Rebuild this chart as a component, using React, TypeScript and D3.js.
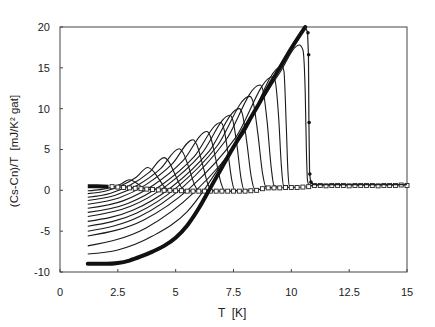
import React from "react";
import * as d3 from "d3";

// axis ticks
const tempTicks = [0, 2.5, 5, 7.5, 10, 12.5, 15];
const tempTickLabels = ["0", "2.5", "5", "7.5", "10", "12.5", "15"];
const diffTicks = [-10, -5, 0, 5, 10, 15, 20];

// H = 0 curve (thick)
const zeroField: [number, number][] = [
  [1.2, -9.0], [2.0, -9.0], [2.5, -8.9], [3.0, -8.6], [3.5, -8.1], [4.0, -7.5],
  [4.5, -6.8], [5.0, -5.8], [5.5, -4.3], [6.0, -2.2], [6.5, 0.3], [7.0, 2.8],
  [7.5, 5.3], [8.0, 7.7], [8.5, 10.1], [9.0, 12.6], [9.5, 15.0], [10.0, 17.4],
  [10.6, 20.0],
];
// its transition, drawn thin with filled dots
const zeroFieldDrop: [number, number][] = [
  [10.6, 20.0], [10.7, 19.4], [10.74, 16.6], [10.76, 8.3], [10.79, 2.0],
  [10.84, 1.0], [10.92, 0.7], [15.0, 0.7],
];
const zeroFieldDots: [number, number][] = [
  [10.72, 19.3], [10.75, 16.6], [10.77, 8.3], [10.8, 2.0], [10.85, 1.0],
];

// curves in field, highest Tc first
const fieldCurves: [number, number][][] = [
  [[1.2, -7.8], [2.5, -7.3], [4.0, -5.6], [5.5, -2.6], [7.0, 3.3], [8.5, 10.0], [9.5, 14.4], [10.35, 17.8],
    [10.5, 17.2], [10.6, 12.0], [10.65, 5.0], [10.7, 1.2], [10.78, 0.6], [11.1, 0.6]],
  [[1.2, -6.8], [3.72, -4.6], [5.82, -0.2], [7.92, 6.84], [9.6, 15.2],
    [9.68, 14.6], [9.78, 8.0], [9.85, 2.5], [9.92, 0.5], [10.2, 0.35]],
  [[1.2, -5.6], [3.6, -3.65], [5.6, 0.25], [7.6, 6.49], [9.2, 13.9],
    [9.3, 13.4], [9.45, 9.0], [9.57, 3.0], [9.66, 0.6], [9.9, 0.35]],
  [[1.2, -5.0], [3.44, -3.21], [5.3, 0.37], [7.16, 6.1], [8.65, 12.9],
    [8.77, 12.3], [8.95, 8.5], [9.13, 2.8], [9.25, 0.6], [9.5, 0.35]],
  [[1.2, -4.4], [3.3, -2.81], [5.05, 0.37], [6.8, 5.46], [8.2, 11.5],
    [8.34, 10.9], [8.55, 7.0], [8.76, 2.0], [8.9, 0.4], [9.2, 0.3]],
  [[1.2, -3.8], [3.17, -2.42], [4.8, 0.34], [6.44, 4.76], [7.75, 10.0],
    [7.88, 9.4], [8.07, 6.0], [8.27, 1.6], [8.4, 0.2], [8.7, 0.1]],
  [[1.2, -3.2], [3.05, -1.96], [4.58, 0.52], [6.12, 4.49], [7.35, 9.2],
    [7.47, 8.6], [7.65, 5.5], [7.83, 1.4], [7.95, 0.1], [8.3, 0.0]],
  [[1.2, -2.7], [2.93, -1.6], [4.36, 0.6], [5.8, 4.12], [6.95, 8.3],
    [7.07, 7.7], [7.25, 4.8], [7.43, 1.2], [7.55, 0.0], [7.9, -0.1]],
  [[1.2, -2.2], [2.75, -1.26], [4.03, 0.62], [5.32, 3.63], [6.35, 7.2],
    [6.5, 6.6], [6.72, 4.0], [6.95, 1.0], [7.1, 0.0], [7.4, -0.1]],
  [[1.2, -1.7], [2.57, -0.91], [3.7, 0.67], [4.84, 3.2], [5.75, 6.2],
    [5.91, 5.6], [6.15, 3.3], [6.39, 0.8], [6.55, 0.0], [6.9, -0.1]],
  [[1.2, -1.25], [2.39, -0.61], [3.37, 0.65], [4.36, 2.69], [5.15, 5.1],
    [5.32, 4.6], [5.58, 2.7], [5.83, 0.6], [6.0, -0.05], [6.3, -0.1]],
  [[1.2, -0.85], [2.19, -0.36], [3.02, 0.61], [3.84, 2.16], [4.5, 4.0],
    [4.68, 3.6], [4.95, 2.1], [5.22, 0.5], [5.4, 0.0], [5.7, -0.05]],
  [[1.2, -0.4], [1.98, -0.08], [2.63, 0.56], [3.28, 1.58], [3.8, 2.8],
    [3.98, 2.5], [4.25, 1.5], [4.52, 0.4], [4.7, 0.05], [5.0, 0.0]],
  [[1.2, -0.05], [1.74, 0.09], [2.19, 0.35], [2.64, 0.79], [3.0, 1.3],
    [3.16, 1.15], [3.4, 0.7], [3.64, 0.25], [3.8, 0.1], [4.1, 0.1]],
];

// normal state reference
const normalLowT: [number, number][] = [[1.2, 0.5], [1.6, 0.5], [2.1, 0.45]];
const normalSquares: [number, number][] = [
  [2.25, 0.45], [2.5, 0.4], [2.75, 0.35], [3.0, 0.3], [3.25, 0.25], [3.5, 0.2],
  [3.75, 0.15], [4.0, 0.1], [4.25, 0.05], [4.5, 0.0], [4.75, 0.0], [5.0, -0.05],
  [5.25, -0.05], [5.5, -0.1], [5.75, -0.1], [6.0, -0.1], [6.25, -0.1], [6.5, -0.1],
  [6.75, -0.1], [7.0, -0.1], [7.25, -0.1], [7.5, -0.1], [7.75, -0.1], [8.0, -0.1],
  [8.25, -0.05], [8.5, 0.0], [8.75, 0.2], [9.0, 0.3], [9.25, 0.3], [9.5, 0.3],
  [9.75, 0.35], [10.0, 0.35], [10.25, 0.35], [10.5, 0.4], [10.75, 0.45], [11.0, 0.6],
  [11.25, 0.6], [11.5, 0.55], [11.75, 0.6], [12.0, 0.6], [12.25, 0.6], [12.5, 0.55],
  [12.75, 0.6], [13.0, 0.6], [13.25, 0.6], [13.5, 0.6], [13.75, 0.55], [14.0, 0.6],
  [14.25, 0.6], [14.5, 0.6], [14.75, 0.65], [15.0, 0.6],
];

const W = 435;
const H = 327;
const margin = { left: 60, right: 28, top: 27, bottom: 55 };
const font = "'Liberation Sans', Arial, sans-serif";

export default function App() {
  const x = d3.scaleLinear().domain([0, 15]).range([margin.left, W - margin.right]);
  const y = d3.scaleLinear().domain([-10, 20]).range([H - margin.bottom, margin.top]);

  const smooth = d3
    .line<[number, number]>()
    .x((d) => x(d[0]))
    .y((d) => y(d[1]))
    .curve(d3.curveMonotoneX);
  const straight = d3
    .line<[number, number]>()
    .x((d) => x(d[0]))
    .y((d) => y(d[1]));

  const [x0, x1] = x.range();
  const [yb, yt] = y.range();

  return (
    <svg
      width={W}
      height={H}
      style={{ position: "absolute", left: 0, top: 0, background: "#fff" }}
      fontFamily={font}
    >
      {/* frame */}
      <rect x={x0} y={yt} width={x1 - x0} height={yb - yt} fill="none" stroke="#444" strokeWidth={1} />

      {/* ticks, pointing inward */}
      {tempTicks.map((t, i) => (
        <g key={"xt" + i}>
          <line x1={x(t)} x2={x(t)} y1={yb} y2={yb - 3} stroke="#444" />
          <text x={x(t)} y={296} fontSize={11} textAnchor="middle" fill="#222">
            {tempTickLabels[i]}
          </text>
        </g>
      ))}
      {diffTicks.map((v) => (
        <g key={"yt" + v}>
          <line x1={x0} x2={x0 + 3} y1={y(v)} y2={y(v)} stroke="#444" />
          <text x={50} y={y(v)} dy="0.35em" fontSize={11} textAnchor="end" fill="#222">
            {v}
          </text>
        </g>
      ))}

      {/* axis titles */}
      <text x={218} y={317} fontSize={12} fill="#222" style={{ whiteSpace: "pre" }}>
        {"T  [K]"}
      </text>
      <text
        transform={`translate(18, ${151}) rotate(-90)`}
        fontSize={11.5}
        textAnchor="middle"
        fill="#222"
        style={{ whiteSpace: "pre" }}
      >
        {"(Cs-Cn)/T  [mJ/K² gat]"}
      </text>

      {/* field curves */}
      {fieldCurves.map((c, i) => (
        <path key={"fc" + i} d={smooth(c) ?? ""} fill="none" stroke="#1a1a1a" strokeWidth={1.1} />
      ))}

      {/* normal state */}
      <path d={straight(normalLowT) ?? ""} fill="none" stroke="#111" strokeWidth={4} />
      <path d={straight(normalSquares) ?? ""} fill="none" stroke="#222" strokeWidth={0.8} />
      {normalSquares.map((d, i) => (
        <rect
          key={"sq" + i}
          x={x(d[0]) - 2}
          y={y(d[1]) - 2}
          width={4}
          height={4}
          fill="#fff"
          stroke="#222"
          strokeWidth={0.9}
        />
      ))}

      {/* zero field */}
      <path d={smooth(zeroField) ?? ""} fill="none" stroke="#111" strokeWidth={4} strokeLinecap="round" />
      <path d={straight(zeroFieldDrop) ?? ""} fill="none" stroke="#222" strokeWidth={1.2} />
      {zeroFieldDots.map((d, i) => (
        <circle key={"dot" + i} cx={x(d[0])} cy={y(d[1])} r={1.8} fill="#111" />
      ))}
    </svg>
  );
}
